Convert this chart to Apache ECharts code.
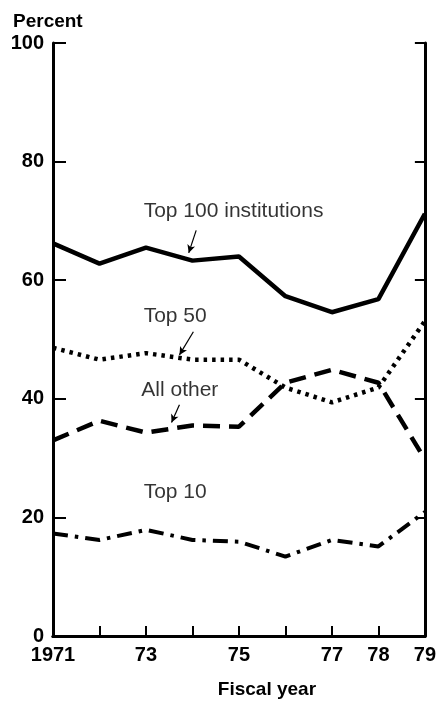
<!DOCTYPE html>
<html>
<head>
<meta charset="utf-8">
<script src="https://cdn.jsdelivr.net/npm/echarts@6/dist/echarts.min.js"></script>
<style>
html,body{margin:0;padding:0;background:#fff;}
#chart{width:439px;height:704px;}
</style>
</head>
<body>
<div id="chart"></div>
<script>
// Data
const years = [1971, 1972, 1973, 1974, 1975, 1976, 1977, 1978, 1979];
const top100 = [66.2, 62.8, 65.5, 63.3, 64.0, 57.3, 54.6, 56.8, 71.2];
const top50 = [48.6, 46.6, 47.7, 46.6, 46.6, 41.9, 39.4, 41.9, 53.1];
const allOther = [33.0, 36.3, 34.3, 35.5, 35.3, 42.7, 44.9, 42.7, 29.8];
const top10 = [17.3, 16.2, 17.9, 16.2, 15.9, 13.4, 16.2, 15.1, 20.9];
const xTickLabels = {1971: '1971', 1973: '73', 1975: '75', 1977: '77', 1978: '78', 1979: '79'};
const yTicks = [0, 20, 40, 60, 80, 100];
// Annotation labels: [text, x, y]
const annoLabels = [
  ['Top 100 institutions', 1972.95, 71.7],
  ['Top 50', 1972.95, 53.9],
  ['All other', 1972.9, 41.5],
  ['Top 10', 1972.95, 24.3]
];
// Annotation arrows: [x1, y1, x2, y2]
const annoArrows = [
  [1974.08, 68.4, 1973.92, 64.6],
  [1974.02, 51.3, 1973.72, 47.4],
  [1973.72, 39.0, 1973.55, 36.0]
];

const pairs = arr => years.map((y, i) => [y, arr[i]]);
const lineSeries = (name, arr, type, width) => ({
  name, type: 'line', data: pairs(arr), symbol: 'none', smooth: false,
  lineStyle: {color: '#000', width: width, type: type, cap: 'butt'},
  z: 3
});

const chart = echarts.init(document.getElementById('chart'));
const tickFont = {fontFamily: '"Liberation Sans", Arial, sans-serif', fontWeight: 'bold', fontSize: 20, color: '#000'};
chart.setOption({
  animation: false,
  backgroundColor: '#fff',
  grid: {left: 53, right: 12, top: 43, bottom: 64, containLabel: false},
  title: {
    text: 'Percent', left: 8, top: 7,
    textStyle: {fontFamily: '"Liberation Sans", Arial, sans-serif', fontWeight: 'bold', fontSize: 19, color: '#000'}
  },
  xAxis: [{
    type: 'value', min: 1971, max: 1979, interval: 1,
    axisLine: {show: true, lineStyle: {color: '#000', width: 3}},
    axisTick: {show: true, inside: true, length: 10, lineStyle: {color: '#000', width: 2}},
    axisLabel: Object.assign({
      margin: 9, showMinLabel: true, showMaxLabel: true,
      formatter: v => xTickLabels[v] || ''
    }, tickFont),
    splitLine: {show: false},
    name: 'Fiscal year', nameLocation: 'middle', nameGap: 44,
    nameTextStyle: {fontFamily: '"Liberation Sans", Arial, sans-serif', fontWeight: 'bold', fontSize: 19, color: '#000', padding: [0, 0, 0, 56]}
  }, {
    type: 'value', position: 'top', min: 1971, max: 1979, interval: 1,
    axisLine: {show: true, lineStyle: {color: '#000', width: 3}},
    axisTick: {show: false}, axisLabel: {show: false}, splitLine: {show: false}
  }],
  yAxis: [{
    type: 'value', min: 0, max: 100, interval: 20,
    axisLine: {show: true, lineStyle: {color: '#000', width: 3}},
    axisTick: {show: true, inside: true, length: 13, lineStyle: {color: '#000', width: 2}},
    axisLabel: Object.assign({margin: 9, formatter: v => yTicks.includes(v) ? String(v) : ''}, tickFont),
    splitLine: {show: false}
  }, {
    type: 'value', position: 'right', min: 0, max: 100, interval: 20,
    axisLine: {show: true, lineStyle: {color: '#000', width: 3}},
    axisTick: {show: true, inside: true, length: 10, lineStyle: {color: '#000', width: 2}},
    axisLabel: {show: false}, splitLine: {show: false}
  }],
  series: [
    lineSeries('Top 100 institutions', top100, 'solid', 4.5),
    lineSeries('Top 50', top50, [3.5, 5], 4.5),
    lineSeries('All other', allOther, [17, 9], 4.5),
    lineSeries('Top 10', top10, [15, 7, 3.5, 7], 4),
    {
      type: 'scatter', symbolSize: 0, silent: true,
      data: annoLabels.map(a => ({name: a[0], value: [a[1], a[2]]})),
      label: {
        show: true, position: 'right', distance: 0, formatter: p => p.name,
        fontFamily: '"Liberation Sans", Arial, sans-serif', fontSize: 21, color: '#000'
      },
      markLine: {
        silent: true, symbol: ['none', 'arrow'], symbolSize: [6, 8],
        label: {show: false},
        lineStyle: {color: '#000', width: 1.2, type: 'solid'},
        data: annoArrows.map(a => [{coord: [a[0], a[1]]}, {coord: [a[2], a[3]]}])
      }
    }
  ]
});
</script>
</body>
</html>
